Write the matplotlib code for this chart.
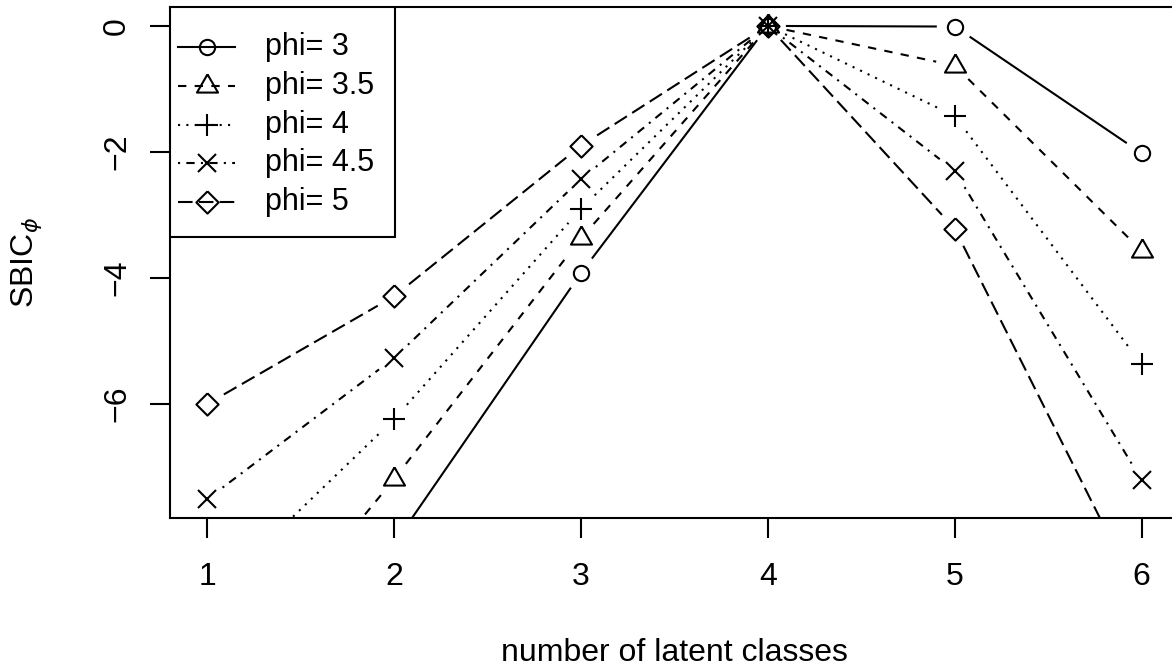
import numpy as np
import matplotlib
matplotlib.use("Agg")
from matplotlib import pyplot as plt
from matplotlib.lines import Line2D

plt.rcParams['font.family'] = ['Liberation Sans', 'DejaVu Sans']
plt.rcParams['mathtext.fontset'] = 'custom'
plt.rcParams['mathtext.rm'] = 'Liberation Sans'
plt.rcParams['axes.unicode_minus'] = True

# data
classes = [1, 2, 3, 4, 5, 6]
phi3 = [-12.3, -8.22, -3.92, 0.0, -0.01, -2.02]
phi35 = [-10.8, -7.19, -3.37, 0.0, -0.63, -3.57]
phi4 = [-9.1, -6.24, -2.90, 0.0, -1.43, -5.37]
phi45 = [-7.51, -5.27, -2.43, 0.0, -2.30, -7.21]
phi5 = [-6.0, -4.29, -1.90, 0.0, -3.22, -9.13]

labels = ["phi= 3", "phi= 3.5", "phi= 4", "phi= 4.5", "phi= 5"]
series = [phi3, phi35, phi4, phi45, phi5]
ltys = ["-", (0, (4, 4)), (0, (1, 3)), (0, (1, 3, 4, 3)), (0, (7, 3))]

# R-like point shapes
tri = [(0, 1), (-0.866, -0.5), (0.866, -0.5), (0, 1)]
dia = [(0, 1), (1, 0), (0, -1), (-1, 0), (0, 1)]
marks = ["o", tri, "+", "x", dia]
msizes = [11, 17.5, 16, 12.5, 16]

lw = 1.5
fs = 23
fig = plt.figure(figsize=(11.72, 6.68), dpi=100)
ax = fig.add_axes([170/1172, 150/668, 1009/1172, 511/668])

ax.set_xlim(0.8, 6.2)
ylo, yhi = min(phi45), 0.0
pad = 0.04*(yhi - ylo)
ax.set_ylim(ylo - pad, yhi + pad)

gap = 19  # px, gap around points like type="b"
tr = ax.transData
inv = tr.inverted()
for ys, ls, mk, ms in zip(series, ltys, marks, msizes):
    pts = tr.transform(np.column_stack([classes, ys]))
    for i in range(len(pts) - 1):
        p0, p1 = pts[i], pts[i+1]
        d = p1 - p0
        L = np.hypot(d[0], d[1])
        if L <= 2*gap:
            continue
        u = d / L
        a = inv.transform(p0 + u*gap)
        b = inv.transform(p1 - u*gap)
        ax.plot([a[0], b[0]], [a[1], b[1]], color="black", lw=lw, ls=ls,
                dash_capstyle="butt")
    ax.plot(classes, ys, ls="none", marker=mk, ms=ms, mfc="none",
            mec="black", mew=lw)

ax.set_xticks(classes)
ax.set_yticks([0, -2, -4, -6])
ax.tick_params(labelsize=fs, length=14.4, width=lw, direction="out")
ax.tick_params(axis="x", pad=17)
ax.tick_params(axis="y", pad=13)
for t in ax.get_yticklabels():
    t.set_rotation(90)
    t.set_va("center")
for s in ax.spines.values():
    s.set_linewidth(lw)

ax.set_xlabel("number of latent classes", fontsize=fs)
ax.xaxis.set_label_coords(0.5, (518 - 653)/511)
ax.xaxis.label.set_va("center")
ax.set_ylabel(r"SBIC$_{\phi}$", fontsize=fs)
ax.yaxis.set_label_coords((27 - 170)/1009, 0.5)
ax.yaxis.label.set_va("center")

# legend box, drawn like R's legend()
W, H = 1009.0, 511.0
box = plt.Rectangle((0, (518 - 237)/H), 225/W, 230/H, transform=ax.transAxes,
                    fill=True, fc="white", ec="black", lw=lw, zorder=5)
ax.add_patch(box)
for i, (lab, ls, mk, ms) in enumerate(zip(labels, ltys, marks, msizes)):
    yy = (518 - (47 + 38.8*i))/H
    ax.add_line(Line2D([8/W, 65/W], [yy, yy], transform=ax.transAxes,
                       color="black", lw=lw, ls=ls, dash_capstyle="butt", zorder=6))
    ax.add_line(Line2D([37/W], [yy], transform=ax.transAxes, ls="none",
                       marker=mk, ms=ms, mfc="none", mec="black", mew=lw, zorder=6))
    ax.text(95/W, yy, lab, transform=ax.transAxes, fontsize=22, va="center",
            ha="left", zorder=6)

fig.savefig("out.png", dpi=100)
